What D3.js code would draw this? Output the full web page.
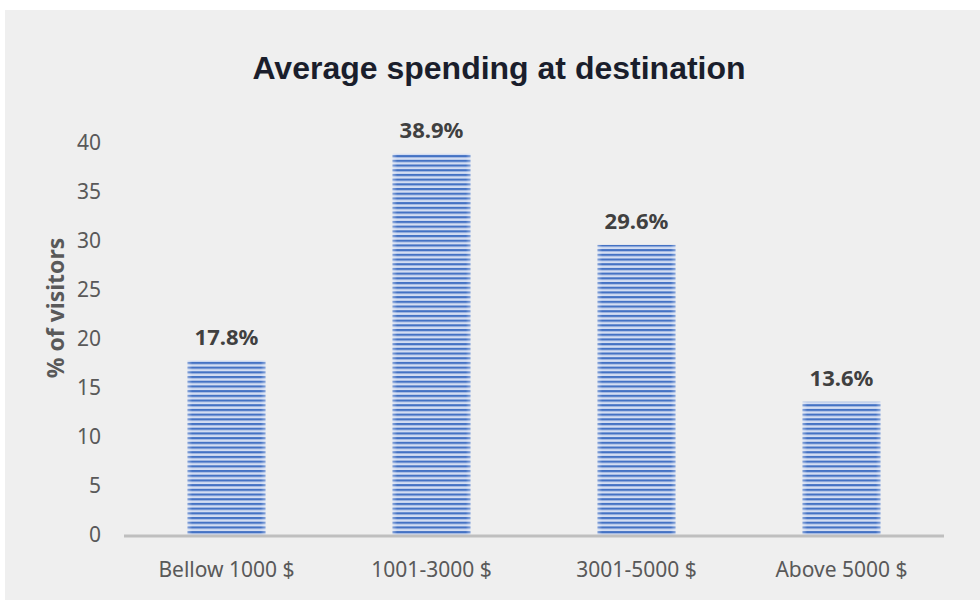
<!DOCTYPE html>
<html>
<head>
<meta charset="utf-8">
<script src="https://cdn.jsdelivr.net/npm/d3@7"></script>
<style>
  html, body { margin: 0; padding: 0; background: #ffffff; }
  svg { display: block; }
</style>
</head>
<body>
<svg id="chart" width="980" height="600"></svg>
<script>
// Spending brackets and share of visitors (%)
const categories = ["Bellow 1000 $", "1001-3000 $", "3001-5000 $", "Above 5000 $"];
const shares = [17.8, 38.9, 29.6, 13.6];
const yTicks = [0, 5, 10, 15, 20, 25, 30, 35, 40];

const svg = d3.select("#chart");
const W = 980, H = 600;
const margin = { top: 94, right: 36, bottom: 65, left: 124 };
const x0 = margin.left, x1 = W - margin.right;
const yBase = 535;

// panel background
svg.append("rect")
  .attr("x", 5).attr("y", 10)
  .attr("width", W - 5).attr("height", H - 10)
  .attr("fill", "#efefef");

// striped fill for the bars
const defs = svg.append("defs");
const pat = defs.append("pattern")
  .attr("id", "stripes")
  .attr("patternUnits", "userSpaceOnUse")
  .attr("width", 8).attr("height", 4.7);
pat.append("rect").attr("width", 8).attr("height", 4.7).attr("fill", "#d3ddf2");
pat.append("rect").attr("y", 0).attr("width", 8).attr("height", 2.2).attr("fill", "#4472c4");

const edge = defs.append("linearGradient").attr("id", "edgeShade")
  .attr("x1", "0").attr("x2", "1").attr("y1", "0").attr("y2", "0");
[[0, 0.35], [0.06, 0.0], [0.94, 0.0], [1, 0.35]].forEach(([o, a]) => {
  edge.append("stop").attr("offset", o).attr("stop-color", "#ffffff").attr("stop-opacity", a);
});

const x = d3.scaleBand()
  .domain(categories)
  .range([x0, x1])
  .paddingInner(0.62)
  .paddingOuter(0.31);

const y = d3.scaleLinear()
  .domain([0, 40])
  .range([yBase, yBase - 40 * 9.8]);

// bars
const bars = svg.append("g");
bars.selectAll("rect.bar")
  .data(shares)
  .join("rect")
  .attr("class", "bar")
  .attr("x", (d, i) => x(categories[i]))
  .attr("y", d => y(d))
  .attr("width", x.bandwidth())
  .attr("height", d => y(0) - y(d))
  .attr("fill", "url(#stripes)");
bars.selectAll("rect.shade")
  .data(shares)
  .join("rect")
  .attr("class", "shade")
  .attr("x", (d, i) => x(categories[i]))
  .attr("y", d => y(d))
  .attr("width", x.bandwidth())
  .attr("height", d => y(0) - y(d))
  .attr("fill", "url(#edgeShade)");

// value labels
svg.append("g").selectAll("text")
  .data(shares)
  .join("text")
  .attr("x", (d, i) => x(categories[i]) + x.bandwidth() / 2)
  .attr("y", d => y(d) - 16)
  .attr("text-anchor", "middle")
  .attr("font-family", "'Noto Sans', sans-serif")
  .attr("font-weight", "bold")
  .attr("font-size", 22)
  .attr("fill", "#404040")
  .text(d => d.toFixed(1) + "%");

// y axis (labels only)
const yAxis = d3.axisLeft(y).tickValues(yTicks).tickSize(0).tickPadding(0);
const gy = svg.append("g")
  .attr("transform", `translate(101,0)`)
  .call(yAxis);
gy.select(".domain").remove();
gy.selectAll("text")
  .attr("font-family", "'Noto Sans', sans-serif")
  .attr("font-size", 21)
  .attr("fill", "#595959");

// x axis
const xAxis = d3.axisBottom(x).tickSize(0).tickPadding(0);
const gx = svg.append("g")
  .attr("transform", `translate(0,${yBase})`)
  .call(xAxis);
gx.select(".domain").remove();
gx.selectAll("text")
  .attr("dy", 0)
  .attr("y", 42)
  .attr("font-family", "'Noto Sans', sans-serif")
  .attr("font-size", 21)
  .attr("fill", "#595959");
svg.append("line")
  .attr("x1", x0).attr("x2", x1 - 0)
  .attr("y1", yBase + 1).attr("y2", yBase + 1)
  .attr("stroke", "#bfbfbf")
  .attr("stroke-width", 3);

// y axis title
svg.append("text")
  .attr("transform", `translate(64,308) rotate(-90)`)
  .attr("text-anchor", "middle")
  .attr("font-family", "'Noto Sans', sans-serif")
  .attr("font-weight", "bold")
  .attr("font-size", 23)
  .attr("fill", "#595959")
  .text("% of visitors");

// chart title
svg.append("text")
  .attr("x", 499).attr("y", 79)
  .attr("text-anchor", "middle")
  .attr("font-family", "'Liberation Sans', Arial, sans-serif")
  .attr("font-weight", "bold")
  .attr("font-size", 32)
  .attr("fill", "#1a1e2c")
  .text("Average spending at destination");
</script>
</body>
</html>
